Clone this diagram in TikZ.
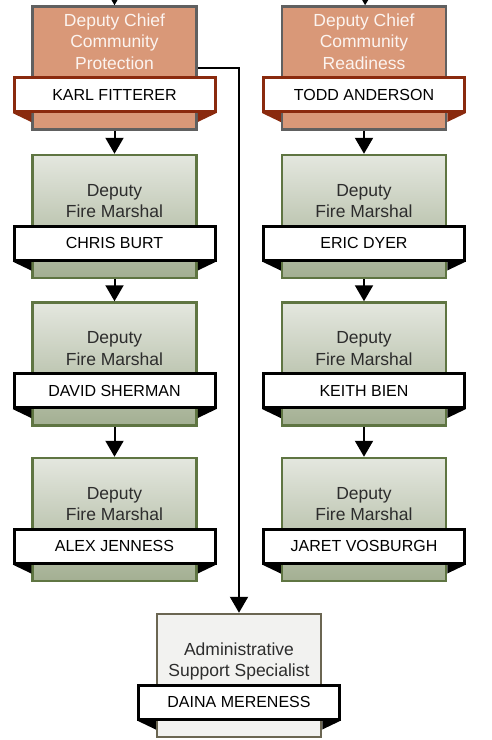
\documentclass[tikz,border=0pt]{standalone}
\usepackage{fontspec}
\setmainfont{Liberation Sans}
\usepackage{tikz}
\usetikzlibrary{arrows.meta, positioning, calc}
\definecolor{chieffill}{RGB}{217,152,120}
\definecolor{chiefline}{RGB}{96,96,96}
\definecolor{chiefband}{RGB}{138,42,14}
\definecolor{chieftext}{RGB}{252,244,240}
\definecolor{marshtop}{RGB}{228,231,223}
\definecolor{marshbot}{RGB}{163,175,146}
\definecolor{marshline}{RGB}{95,117,66}
\definecolor{admfill}{RGB}{242,242,240}
\definecolor{admline}{RGB}{107,102,82}
\definecolor{titlegray}{RGB}{45,45,45}
\tikzset{
  posbox/.style   = {rectangle, line width=2.5pt, minimum width=164pt, minimum height=123pt},
  chief/.style    = {posbox, draw=chiefline, fill=chieffill},
  marshal/.style  = {posbox, draw=marshline, top color=marshtop, bottom color=marshbot},
  adminbox/.style = {posbox, draw=admline, fill=admfill},
  titletxt/.style = {align=center, inner sep=0pt, text depth=0pt,
                     font=\fontsize{17.5}{21.5}\selectfont, text=titlegray},
  chieftitle/.style = {titletxt, text=chieftext},
  namebar/.style  = {rectangle, draw=black, fill=white, line width=3pt,
                     minimum width=201pt, minimum height=34pt, inner sep=0pt,
                     font=\fontsize{16}{19}\selectfont},
  chiefbar/.style = {namebar, draw=chiefband},
  arr/.style      = {-{Triangle[length=16pt, width=18pt]}, line width=2pt, color=black},
}

\begin{document}
\begin{tikzpicture}[x=1pt, y=-1pt, node distance=23pt and 83pt]
  \useasboundingbox (0,0) rectangle (491,740);

  % Deputy chiefs
  \node[chief] (karl) at (114.5,68) {};
  \node[chief, right=of karl] (todd) {};

  % Deputy fire marshals
  \node[marshal, below=23pt of karl]  (chris)   {};
  \node[marshal, below=22pt of chris] (david)   {};
  \node[marshal, below=30pt of david] (alex)    {};
  \node[marshal, below=23pt of todd]  (eric)    {};
  \node[marshal, below=22pt of eric]  (keith)   {};
  \node[marshal, below=30pt of keith] (jaret)   {};

  % Admin support
  \node[adminbox] (daina) at (239,675.5) {};

  % Name bars
  \node[chiefbar] (karlname)  at ([yshift=-26.5pt]karl.center)  {KARL FITTERER};
  \node[chiefbar] (toddname)  at ([yshift=-26.5pt]todd.center)  {TODD ANDERSON};
  \node[namebar]  (chrisname) at ([yshift=-26.5pt]chris.center) {CHRIS BURT};
  \node[namebar]  (davidname) at ([yshift=-26.5pt]david.center) {DAVID SHERMAN};
  \node[namebar]  (alexname)  at ([yshift=-26.5pt]alex.center)  {ALEX JENNESS};
  \node[namebar]  (ericname)  at ([yshift=-26.5pt]eric.center)  {ERIC DYER};
  \node[namebar]  (keithname) at ([yshift=-26.5pt]keith.center) {KEITH BIEN};
  \node[namebar]  (jaretname) at ([yshift=-26.5pt]jaret.center) {JARET VOSBURGH};
  \node[namebar]  (dainaname) at ([yshift=-26.5pt]daina.center) {DAINA MERENESS};

  % Ribbon folds under the name bars
  \foreach \b/\c in {karl/chiefband, todd/chiefband, chris/black, david/black, alex/black,
                     eric/black, keith/black, jaret/black, daina/black} {
    \fill[\c] (\b name.south west) -- (\b name.south -| \b.west) -- ++(0,9) -- cycle;
    \fill[\c] (\b name.south east) -- (\b name.south -| \b.east) -- ++(0,9) -- cycle;
  }

  % Titles
  \node[chieftitle, above=25pt of karlname.center] (karltitle) {Deputy Chief\\Community\\Protection};
  \node[chieftitle, above=25pt of toddname.center] (toddtitle) {Deputy Chief\\Community\\Readiness};
  \foreach \n in {chris, david, alex, eric, keith, jaret}
    \node[titletxt, above=25pt of \n name.center] (\n title) {Deputy\\Fire Marshal};
  \node[titletxt, above=25pt of dainaname.center] (dainatitle) {Administrative\\Support Specialist};

  % Reporting lines
  \coordinate (karlin) at (114.5,-20);
  \coordinate (toddin) at (365.5,-20);
  \draw[arr] (karlin) -- (karl);
  \draw[arr] (toddin) -- (todd);
  \draw[arr] (karl)  -- (chris);
  \draw[arr] (chris) -- (david);
  \draw[arr] (david) -- (alex);
  \draw[arr] (todd)  -- (eric);
  \draw[arr] (eric)  -- (keith);
  \draw[arr] (keith) -- (jaret);
  \draw[arr] (karl.east) -| (daina.north);

\end{tikzpicture}
\end{document}
